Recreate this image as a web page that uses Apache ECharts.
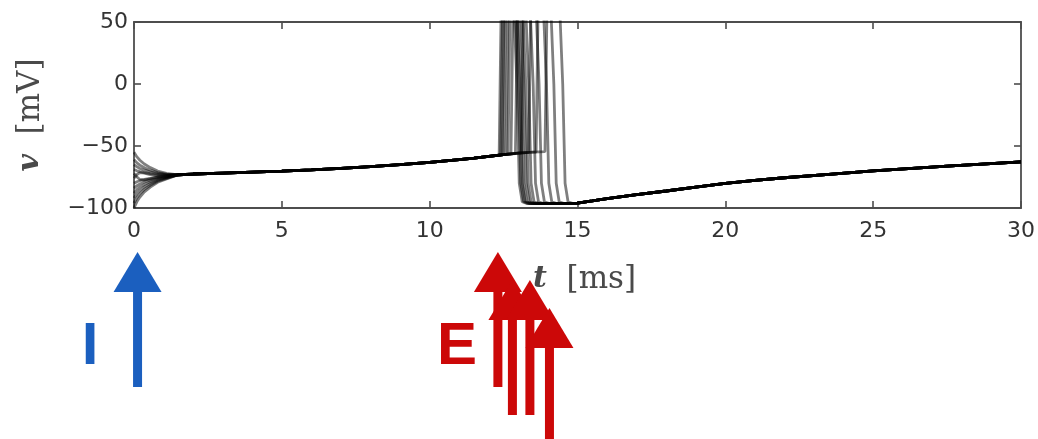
<!DOCTYPE html>
<html>
<head>
<meta charset="utf-8">
<script src="https://cdn.jsdelivr.net/npm/echarts@6/dist/echarts.min.js"></script>
<style>
  html, body { margin: 0; padding: 0; background: #ffffff; }
  #chart { width: 1038px; height: 439px; }
</style>
</head>
<body>
<div id="chart"></div>
<script>
// Membrane potential traces v(t) in mV, t in ms.
// Early transient: each trace relaxes from its own initial value.
const earlyT = [0, 0.1, 0.2, 0.35, 0.55, 0.8, 1.1];
const earlyV = [
  [-55, -58.8, -61.5, -64.5, -67.4, -70.2, -72.1],
  [-61, -63.6, -65.4, -67.5, -69.5, -71.4, -72.7],
  [-65, -66.8, -68.1, -69.5, -70.9, -72.2, -73.1],
  [-69, -70.0, -70.7, -71.5, -72.3, -73.0, -73.5],
  [-72, -75.0, -77.0, -77.5, -76.5, -75.0, -74.0],
  [-76, -73.0, -71.5, -71.8, -73.0, -74.0, -74.2],
  [-80, -78.8, -78.0, -77.0, -76.1, -75.2, -74.6],
  [-84, -82.0, -80.6, -79.0, -77.5, -76.0, -75.0],
  [-88, -85.2, -83.2, -81.0, -78.9, -76.8, -75.4],
  [-92, -88.4, -85.9, -83.0, -80.3, -77.6, -75.8],
  [-96, -91.6, -88.5, -85.0, -81.7, -78.4, -76.2],
  [-100, -94.8, -91.2, -87.0, -83.1, -79.2, -76.6]
];

// Slow depolarising ramp shared by all traces before they fire.
const rampT = [1.5, 2, 3, 4, 5, 6, 7, 8, 9, 10, 11, 11.5, 12, 12.5, 13, 13.5, 14];
const rampV = [-73.2, -72.6, -71.8, -71.0, -70.3, -69.2, -68.0, -66.7, -65.1, -63.2, -61.0, -59.8, -58.4, -57.0, -55.8, -55.0, -54.4];

// Spike of each trace: upstroke, peak (above the axis), downstroke, trough.
const spikePaths = [
  [[12.35, -57.4], [12.42, 65], [12.85, 60], [12.95, 0], [13.03, -80], [13.13, -95], [13.30, -96.5]],
  [[12.40, -57.3], [12.47, 65], [12.90, 60], [13.00, 0], [13.08, -80], [13.18, -95], [13.35, -96.5]],
  [[12.45, -57.1], [12.52, 65], [12.95, 60], [13.05, 0], [13.13, -80], [13.23, -95], [13.40, -96.5]],
  [[12.50, -57.0], [12.57, 65], [13.00, 60], [13.10, 0], [13.18, -80], [13.28, -95], [13.45, -96.5]],
  [[12.58, -56.8], [12.65, 65], [13.08, 60], [13.18, 0], [13.26, -80], [13.36, -95], [13.53, -96.5]],
  [[12.65, -56.6], [12.72, 65], [13.15, 60], [13.25, 0], [13.33, -80], [13.43, -95], [13.60, -96.5]],
  [[12.75, -56.4], [12.82, 65], [13.25, 60], [13.35, 0], [13.43, -80], [13.53, -95], [13.70, -96.5]],
  [[12.90, -56.1], [12.97, 65], [13.40, 60], [13.50, 0], [13.58, -80], [13.68, -95], [13.85, -96.5]],
  [[13.10, -55.6], [13.17, 65], [13.60, 60], [13.70, 0], [13.78, -80], [13.88, -95], [14.05, -96.5]],
  [[13.35, -55.2], [13.42, 65], [13.85, 60], [13.95, 0], [14.03, -80], [14.13, -95], [14.30, -96.5]],
  [[13.60, -54.9], [13.67, 65], [14.10, 60], [14.20, 0], [14.28, -80], [14.38, -95], [14.55, -96.5]],
  [[13.90, -54.5], [13.97, 65], [14.40, 60], [14.50, 0], [14.58, -80], [14.68, -95], [14.85, -96.5]]
];

// After-hyperpolarisation recovery shared by all traces.
const recoveryT = [14.6, 15, 15.5, 16, 17, 18, 19, 20, 21, 22, 23.5, 25, 27.5, 30];
const recoveryV = [-96.5, -96.0, -94.3, -92.5, -89.3, -86.3, -83.2, -80.2, -77.8, -75.6, -72.8, -70.0, -66.2, -62.8];

// Input times (ms) and stacking row of the arrows drawn under the time axis.
const inhibitoryInputs = [[0.12, 0]];
const excitatoryInputs = [[12.28, 0], [12.77, 1], [13.36, 1], [14.02, 2]];

const xTicks = { min: 0, max: 30, step: 5 };
const yTicks = { min: -100, max: 50, step: 50 };

function buildTrace(i) {
  const pts = earlyT.map((t, k) => [t, earlyV[i][k]]);
  const spike = spikePaths[i];
  const onset = spike[0][0];
  const end = spike[spike.length - 1][0];
  const lastEarly = earlyT[earlyT.length - 1];
  rampT.forEach((t, k) => { if (t > lastEarly && t < onset) pts.push([t, rampV[k]]); });
  spike.forEach(p => pts.push(p));
  recoveryT.forEach((t, k) => { if (t > end) pts.push([t, recoveryV[k]]); });
  return pts;
}

const minusFmt = v => (v < 0 ? '\u2212' + Math.abs(v) : String(v));

const frameLine = { show: true, onZero: false, lineStyle: { color: '#4d4d4d', width: 1.8 } };
const innerTick = { show: true, inside: true, length: 7, lineStyle: { color: '#4d4d4d', width: 1.6 } };
const tickFont = { fontFamily: 'DejaVu Sans', fontSize: 22, color: '#333333' };
const titleRich = {
  it: { fontFamily: 'DejaVu Serif', fontStyle: 'italic', fontWeight: 'bold', fontSize: 30, color: '#4a4a4a' },
  rm: { fontFamily: 'DejaVu Serif', fontSize: 31, color: '#4a4a4a' }
};

function arrowItem(params, api) {
  const tip = api.coord([api.value(0), api.value(1)]);
  const color = api.visual('color');
  const headH = 40, headHalf = 24, shaftHalf = 4.5, total = 135;
  return {
    type: 'group',
    children: [
      { type: 'rect', shape: { x: tip[0] - shaftHalf, y: tip[1] + headH - 2, width: shaftHalf * 2, height: total - headH + 2 }, style: { fill: color } },
      { type: 'polygon', shape: { points: [[tip[0], tip[1]], [tip[0] - headHalf, tip[1] + headH], [tip[0] + headHalf, tip[1] + headH]] }, style: { fill: color } }
    ]
  };
}

const traceSeries = spikePaths.map((_, i) => ({
  type: 'line',
  xAxisIndex: 0,
  yAxisIndex: 0,
  data: buildTrace(i),
  showSymbol: false,
  symbol: 'none',
  clip: true,
  lineStyle: { color: '#000000', width: 2.8, opacity: 0.5 },
  z: 3
}));

const chart = echarts.init(document.getElementById('chart'), null, { renderer: 'canvas' });
chart.setOption({
  animation: false,
  backgroundColor: '#ffffff',
  grid: [
    { left: 134, right: 15, top: 22, height: 186 },
    { left: 134, right: 15, top: 252, height: 56 }
  ],
  xAxis: [
    {
      type: 'value', gridIndex: 0, position: 'bottom',
      min: xTicks.min, max: xTicks.max, interval: xTicks.step,
      axisLine: frameLine, axisTick: innerTick, splitLine: { show: false },
      axisLabel: Object.assign({ margin: 12 }, tickFont),
      name: '{it|t}{rm|  [ms]}', nameLocation: 'middle', nameGap: 56,
      nameTextStyle: { rich: titleRich, padding: [0, 0, 0, 14] }
    },
    {
      type: 'value', gridIndex: 0, position: 'top',
      min: xTicks.min, max: xTicks.max, interval: xTicks.step,
      axisLine: frameLine, axisTick: innerTick, splitLine: { show: false },
      axisLabel: { show: false }
    },
    { type: 'value', gridIndex: 1, min: 0, max: 30, show: false }
  ],
  yAxis: [
    {
      type: 'value', gridIndex: 0, position: 'left',
      min: yTicks.min, max: yTicks.max, interval: yTicks.step,
      axisLine: frameLine, axisTick: innerTick, splitLine: { show: false },
      axisLabel: Object.assign({ margin: 6, formatter: minusFmt }, tickFont),
      name: '{it|v}{rm|  [mV]}', nameLocation: 'middle', nameGap: 88, nameRotate: 90,
      nameTextStyle: { rich: titleRich }
    },
    {
      type: 'value', gridIndex: 0, position: 'right',
      min: yTicks.min, max: yTicks.max, interval: yTicks.step,
      axisLine: frameLine, axisTick: innerTick, splitLine: { show: false },
      axisLabel: { show: false }
    },
    { type: 'value', gridIndex: 1, min: 0, max: 2, inverse: true, show: false }
  ],
  graphic: [
    { type: 'text', x: 90, y: 347, style: { text: 'I', font: 'bold 60px "Liberation Sans"', fill: '#1B5FBF', textAlign: 'center', textVerticalAlign: 'middle' } },
    { type: 'text', x: 457, y: 347, style: { text: 'E', font: 'bold 60px "Liberation Sans"', fill: '#CC0808', textAlign: 'center', textVerticalAlign: 'middle' } }
  ],
  series: traceSeries.concat([
    {
      type: 'custom', name: 'I', xAxisIndex: 2, yAxisIndex: 2, clip: false,
      itemStyle: { color: '#1B5FBF' }, renderItem: arrowItem, data: inhibitoryInputs, z: 5
    },
    {
      type: 'custom', name: 'E', xAxisIndex: 2, yAxisIndex: 2, clip: false,
      itemStyle: { color: '#CC0808' }, renderItem: arrowItem, data: excitatoryInputs, z: 5
    }
  ])
});
</script>
</body>
</html>
